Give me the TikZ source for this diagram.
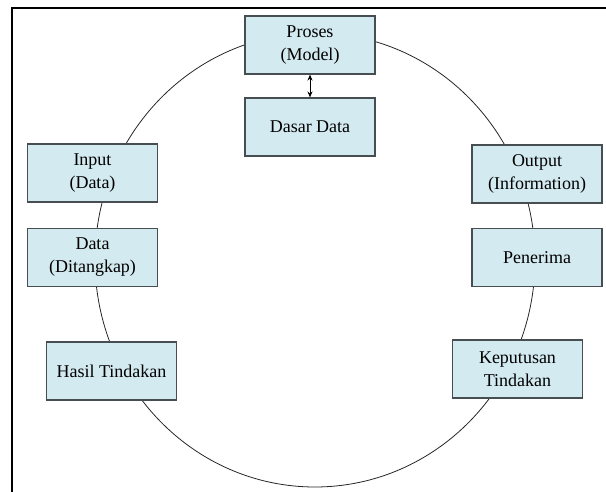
\documentclass[tikz,border=0pt]{standalone}
\usepackage{fontspec}
\setmainfont{Liberation Serif}
\usetikzlibrary{arrows.meta}
\definecolor{boxfill}{RGB}{211,234,240}
\definecolor{boxline}{RGB}{70,78,82}
\tikzset{
  stagebox/.style={draw=boxline, line width=1.1pt, fill=boxfill,
    minimum width=130pt, minimum height=58pt, inner sep=2pt,
    align=center, font=\fontsize{18}{23}\selectfont, text=black},
  cycleline/.style={draw=black!85, line width=0.8pt},
  linkarrow/.style={line width=1pt, {Stealth[length=6pt,width=5pt]}-{Stealth[length=6pt,width=5pt]}}
}
\begin{document}
\begin{tikzpicture}[x=1pt,y=-1pt]
  \useasboundingbox (0,0) rectangle (606,492);
  % outer frame (top and left edges)
  \draw[line width=2pt] (12,492) -- (12,7.8) -- (606,7.8);
  % information cycle
  \draw[cycleline] (315,260) ellipse [x radius=220, y radius=227];
  % stages of the cycle
  \node[stagebox] (proses)    at (310,45)    {Proses\\(Model)};
  \node[stagebox] (dasar)     at (310,127)   {Dasar Data};
  \node[stagebox] (input)     at (92.5,173)  {Input\\(Data)};
  \node[stagebox] (data)      at (92.5,257.5){Data\\(Ditangkap)};
  \node[stagebox] (hasil)     at (111.5,371) {Hasil Tindakan};
  \node[stagebox] (output)    at (537,174)   {Output\\(Information)};
  \node[stagebox] (penerima)  at (537,257.5) {Penerima};
  \node[stagebox] (keputusan) at (517.5,369) {Keputusan\\Tindakan};
  % model <-> database link
  \draw[linkarrow] (proses) -- (dasar);
\end{tikzpicture}
\end{document}
